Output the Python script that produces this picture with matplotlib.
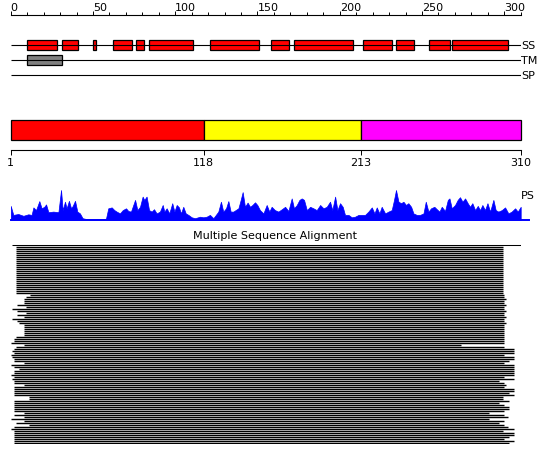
import matplotlib
import matplotlib.pyplot as plt
from matplotlib.ticker import MultipleLocator

matplotlib.use("Agg")

W, H = 550, 465
SEQ_LEN = 310

ruler_ticks = [0, 50, 100, 150, 200, 250, 300]

track_names = ["SS", "TM", "SP"]
helices = [(10, 28), (31, 41), (50, 52), (62, 74), (76, 81), (84, 111),
           (121, 151), (158, 169), (172, 208), (214, 232), (234, 245),
           (254, 267), (268, 302)]
tm_segments = [(10, 31)]

domain_bounds = [1, 118, 213, 310]
domain_colors = ["#ff0000", "#ffff00", "#ff00ff"]

ps_pos = [0.0, 1.6, 4.6, 7.7, 10.7, 12.7, 13.8, 15.4, 17.4, 18.8, 20.4, 21.5,
          22.9, 25.9, 29.0, 30.6, 31.6, 33.0, 34.0, 35.4, 36.7, 37.7, 39.1,
          40.5, 42.1, 43.7, 46.2, 52.3, 57.9, 59.3, 61.4, 63.0, 64.4, 66.4,
          68.1, 70.1, 71.5, 73.1, 74.5, 75.6, 77.0, 78.6, 80.2, 81.2, 82.6,
          84.1, 85.7, 87.1, 88.7, 90.7, 92.4, 93.4, 94.8, 96.4, 98.2, 99.5,
          100.9, 102.3, 103.5, 104.9, 106.4, 108.0, 110.0, 112.0, 115.1,
          117.1, 119.1, 121.1, 123.2, 126.2, 127.8, 129.2, 130.9, 132.3,
          133.7, 135.3, 138.4, 139.8, 141.0, 142.4, 144.0, 145.5, 146.9,
          148.5, 149.9, 151.5, 153.6, 155.6, 157.2, 158.6, 160.6,
          162.7, 164.8, 166.8, 168.8, 170.8, 172.2, 173.9, 175.5, 176.9,
          178.3, 180.0, 182.0, 184.0, 186.0, 188.1, 190.1, 192.1, 194.1,
          195.5, 197.2, 198.6, 200.2, 201.8, 203.2, 205.3, 207.3, 209.3,
          211.4, 213.4, 215.4, 217.4, 219.5, 221.1, 222.5, 224.1, 225.5,
          227.6, 229.6, 231.6, 233.0, 234.2, 235.7, 237.3, 238.7, 240.3,
          241.7, 243.4, 244.8, 246.8, 248.8, 250.9, 252.3, 253.9, 255.5,
          257.5, 259.0, 260.6, 262.0, 264.0, 265.7, 266.7, 268.1, 270.1,
          271.7, 273.1, 274.6, 276.2, 277.8, 279.2, 280.6, 282.3, 283.9,
          285.3, 286.7, 288.3, 289.8, 291.4, 293.4, 294.8, 296.4, 298.5,
          300.5, 302.5, 304.5, 306.6, 308.2, 310.0]
ps_val = [0.47, 0.17, 0.20, 0.14, 0.19, 0.17, 0.42, 0.33, 0.63, 0.39, 0.44, 0.52,
          0.26, 0.28, 0.26, 1.00, 0.33, 0.61, 0.39, 0.64, 0.39, 0.47, 0.64,
          0.28, 0.22, 0.06, 0.03, 0.03, 0.04, 0.39, 0.42, 0.33, 0.28, 0.22,
          0.33, 0.39, 0.30, 0.28, 0.50, 0.67, 0.33, 0.44, 0.78, 0.67, 0.78,
          0.33, 0.28, 0.36, 0.22, 0.28, 0.50, 0.28, 0.39, 0.22, 0.56, 0.28,
          0.50, 0.42, 0.22, 0.44, 0.22, 0.17, 0.09, 0.06, 0.11,
          0.09, 0.11, 0.17, 0.06, 0.28, 0.61, 0.28, 0.39, 0.63,
          0.28, 0.28, 0.39, 0.67, 0.93, 0.44, 0.58, 0.44, 0.50,
          0.59, 0.50, 0.33, 0.22, 0.50, 0.28, 0.44, 0.33,
          0.28, 0.36, 0.44, 0.30, 0.72, 0.39, 0.50, 0.67, 0.72,
          0.67, 0.33, 0.44, 0.39, 0.33, 0.50, 0.39, 0.44, 0.61,
          0.33, 0.78, 0.33, 0.56, 0.44, 0.17, 0.17, 0.09, 0.11,
          0.17, 0.17, 0.17, 0.28, 0.42, 0.22, 0.42, 0.22, 0.44,
          0.22, 0.28, 0.33, 0.67, 1.00, 0.61, 0.56, 0.61, 0.50,
          0.56, 0.44, 0.22, 0.17, 0.17, 0.22, 0.61, 0.28, 0.39,
          0.44, 0.36, 0.28, 0.44, 0.30, 0.67, 0.72, 0.39, 0.50,
          0.67, 0.76, 0.61, 0.72, 0.56, 0.44, 0.56, 0.33, 0.47,
          0.33, 0.50, 0.33, 0.56, 0.28, 0.67, 0.33, 0.28, 0.33,
          0.42, 0.22, 0.28, 0.39, 0.28, 0.44]

query_span = (1, 310)
msa_start = [3] * 24 + [12, 9, 8, 8, 8, 4, 9, 1, 4, 9, 4, 8, 1, 4, 5, 8, 8, 8] + \
    [8, 8, 8, 3, 2, 2, 0, 8, 3, 2, 1, 2, 0, 1, 2, 2, 8, 0, 2, 5, 2, 2, 0, 2,
     1, 2, 2, 8, 2, 2, 2, 2, 2, 11, 11, 2, 2, 2, 2, 2, 2, 8, 2, 8, 0, 8, 3,
     11, 2, 0, 2, 2, 2, 2, 2, 2, 2]
msa_end = [299] * 24 + [300, 300, 301, 300, 300, 301, 300, 300, 301, 300, 300,
                        301, 300, 300, 301, 300, 300, 300] + \
    [300, 300, 300, 300, 300, 300, 300, 274, 300, 306, 306, 306, 300, 306,
     306, 303, 300, 306, 306, 306, 306, 306, 306, 300, 306, 297, 300, 301,
     300, 306, 306, 303, 306, 299, 299, 303, 297, 300, 303, 303, 300, 291,
     300, 302, 291, 300, 297, 300, 302, 306, 299, 306, 306, 303, 300, 306,
     303]

plt.rcParams["font.family"] = "DejaVu Sans"
plt.rcParams["font.size"] = 8


def axes_px(fig, left, top, right, bottom):
    return fig.add_axes([left / W, 1 - bottom / H, (right - left) / W, (bottom - top) / H])


def strip(ax, keep=()):
    for name, spine in ax.spines.items():
        spine.set_visible(name in keep)
    ax.set_facecolor("none")


fig = plt.figure(figsize=(W / 100, H / 100), dpi=100)

# residue ruler
ax = axes_px(fig, 10.7, 15, 520.7, 20)
strip(ax, keep=("top",))
ax.spines["top"].set_linewidth(0.8)
ax.set_xlim(0, SEQ_LEN)
ax.set_yticks([])
ax.xaxis.tick_top()
ax.set_xticks(ruler_ticks)
ax.xaxis.set_minor_locator(MultipleLocator(10))
ax.tick_params(axis="x", which="major", direction="out", length=2.6, width=0.7, pad=-1.2)
ax.tick_params(axis="x", which="minor", direction="out", length=2.0, width=0.7)
for lab in ax.get_xticklabels():
    lab.set_ha("left")

# SS / TM / SP tracks
ax = axes_px(fig, 10.7, 37.5, 520.7, 82.5)
strip(ax)
ax.set_xlim(0, SEQ_LEN)
ax.set_ylim(2.5, -0.5)
ax.hlines(range(len(track_names)), 0, SEQ_LEN, color="black", lw=0.8)
for s, e in helices:
    ax.barh(0, e - s, left=s, height=0.68, color="#ff0000", edgecolor="black", lw=0.9)
for s, e in tm_segments:
    ax.barh(1, e - s, left=s, height=0.68, color="#808080", edgecolor="black", lw=0.9)
ax.set_xticks([])
ax.yaxis.tick_right()
ax.set_yticks(range(len(track_names)))
ax.set_yticklabels(track_names)
ax.tick_params(axis="y", length=0, pad=0.3)

# domain bar
ax = axes_px(fig, 10.7, 120, 520.7, 150)
strip(ax, keep=("bottom",))
ax.spines["bottom"].set_linewidth(0.8)
ax.set_xlim(domain_bounds[0], domain_bounds[-1])
ax.set_ylim(0, 3)
for i, c in enumerate(domain_colors):
    ax.barh(2, domain_bounds[i + 1] - domain_bounds[i], left=domain_bounds[i],
            height=2, color=c, edgecolor="black", lw=0.9, clip_on=False)
ax.set_yticks([])
ax.set_xticks(domain_bounds)
ax.tick_params(axis="x", direction="out", length=3.6, width=0.7, pad=2.5)

# PS profile
ps_right = SEQ_LEN * (529 - 10.7) / 510
ax = axes_px(fig, 10.7, 190, 529, 220)
strip(ax, keep=("bottom",))
ax.spines["bottom"].set_color("#0000ff")
ax.spines["bottom"].set_linewidth(1.4)
ax.set_xlim(0, ps_right)
ax.set_ylim(0, 1)
ax.fill_between(ps_pos, 0, ps_val, color="#0000ff", lw=0.5, edgecolor="#0000ff")
ax.set_xticks([])
ax.set_yticks([])
ax.text(SEQ_LEN, 0.8, "PS", ha="left", va="center")

# multiple sequence alignment
fig.text(0.5, 1 - 236 / H, "Multiple Sequence Alignment", ha="center", va="center")
ax = axes_px(fig, 10.7, 244, 520.7, 444)
strip(ax)
ax.set_xlim(0, SEQ_LEN)
ax.set_ylim(len(msa_start) - 0.5, -1.5)
ax.hlines(-1, query_span[0], query_span[1], color="black", lw=0.75)
ax.hlines(range(len(msa_start)), msa_start, msa_end, color="black", lw=1.0)
ax.set_xticks([])
ax.set_yticks([])

fig.savefig("out.png", dpi=100)
plt.close(fig)
